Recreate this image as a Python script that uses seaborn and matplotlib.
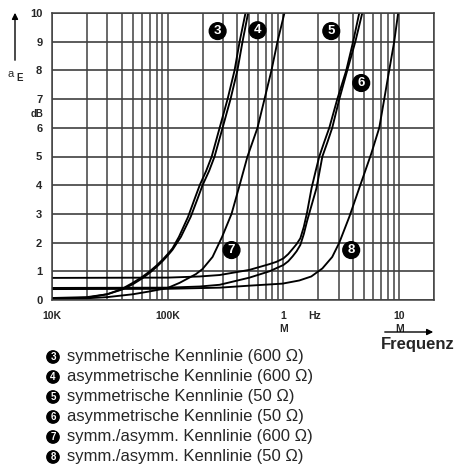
import numpy as np
import pandas as pd
import matplotlib.pyplot as plt
import seaborn as sns
from matplotlib.ticker import LogLocator, NullFormatter

# a_E in dB over frequency (kHz)
f3 = [10, 20, 30, 40, 50, 60, 70, 80, 90, 100, 110, 125, 150, 170, 189, 215, 240, 281, 329, 378, 418, 470]
a3 = [0.05, 0.08, 0.2, 0.38, 0.6, 0.8, 1.0, 1.2, 1.4, 1.6, 1.8, 2.2, 2.9, 3.5, 4.0, 4.5, 5.0, 6.0, 7.0, 8.0, 9.0, 10.0]

f4 = [10, 20, 30, 40, 50, 60, 70, 80, 90, 100, 110, 130, 158, 180, 200, 228, 254, 298, 349, 400, 443, 495]
a4 = [0.07, 0.1, 0.2, 0.36, 0.55, 0.75, 0.95, 1.15, 1.35, 1.55, 1.75, 2.2, 2.9, 3.5, 4.0, 4.5, 5.0, 6.0, 7.0, 8.0, 9.0, 10.0]

f5 = [10, 100, 189, 281, 509, 757, 870, 1000, 1100, 1200, 1300, 1400, 1500, 1600, 1750, 1900, 2040, 2250, 2490, 2920, 3490, 4000, 4520]
a5 = [0.77, 0.78, 0.82, 0.87, 1.05, 1.25, 1.33, 1.45, 1.6, 1.78, 1.95, 2.15, 2.55, 3.05, 3.9, 4.5, 5.0, 5.5, 6.0, 7.0, 8.0, 9.0, 10.0]

f6 = [10, 100, 189, 281, 509, 757, 1000, 1100, 1200, 1300, 1400, 1500, 1600, 1750, 1930, 2170, 2400, 2640, 3040, 3560, 4180, 4800]
a6 = [0.42, 0.43, 0.47, 0.53, 0.78, 1.0, 1.22, 1.35, 1.52, 1.7, 1.92, 2.3, 2.75, 3.3, 3.9, 5.0, 5.5, 6.0, 7.0, 8.0, 9.0, 10.0]

f7 = [10, 20, 30, 50, 70, 100, 127, 149, 175, 200, 244, 295, 356, 418, 489, 597, 686, 788, 888, 1020]
a7 = [0.04, 0.06, 0.1, 0.2, 0.3, 0.42, 0.6, 0.75, 0.9, 1.08, 1.5, 2.2, 3.0, 4.0, 5.0, 6.0, 7.0, 8.0, 9.0, 10.0]

f8 = [10, 100, 281, 509, 980, 1370, 1740, 2170, 2640, 3040, 3710, 4520, 5740, 6730, 7430, 8200, 9060, 9800]
a8 = [0.38, 0.39, 0.43, 0.5, 0.57, 0.68, 0.82, 1.1, 1.5, 2.0, 2.9, 3.9, 5.1, 6.0, 7.0, 8.0, 9.0, 10.0]

legend_texts = [
    ("3", "symmetrische Kennlinie (600 \u03a9)"),
    ("4", "asymmetrische Kennlinie (600 \u03a9)"),
    ("5", "symmetrische Kennlinie (50 \u03a9)"),
    ("6", "asymmetrische Kennlinie (50 \u03a9)"),
    ("7", "symm./asymm. Kennlinie (600 \u03a9)"),
    ("8", "symm./asymm. Kennlinie (50 \u03a9)"),
]

xtick_pos = [1e4, 1e5, 1e6, 1e7]
xtick_lab = ["10K", "100K", "1\nM", "10\nM"]

rows = []
for name, f, a in [("3", f3, a3), ("4", f4, a4), ("5", f5, a5),
                   ("6", f6, a6), ("7", f7, a7), ("8", f8, a8)]:
    for fi, ai in zip(f, a):
        rows.append({"curve": name, "freq": fi * 1000, "dB": ai})
df = pd.DataFrame(rows)

sns.set_style("white")
plt.rcParams["font.family"] = ["Liberation Sans", "DejaVu Sans"]

W, H = 456, 470
def px(x, y):
    return x / W, 1 - y / H

fig = plt.figure(figsize=(W / 100, H / 100), dpi=100)
ax = fig.add_axes([52 / W, 1 - 300 / H, (434 - 52) / W, (300 - 13) / H])

gc = "#404040"
ax.set_xscale("log")
ax.set_xlim(1e4, 2e7)
ax.set_ylim(0, 10)
ax.xaxis.set_minor_locator(LogLocator(base=10, subs=range(2, 10)))
ax.xaxis.set_minor_formatter(NullFormatter())
ax.grid(True, which="both", axis="x", color=gc, lw=1.1)
ax.grid(True, which="major", axis="y", color=gc, lw=1.2)
ax.set_axisbelow(True)

sns.lineplot(data=df, x="freq", y="dB", units="curve", estimator=None,
             color="black", lw=1.35, ax=ax, legend=False, sort=False)

ax.set_xticks(xtick_pos)
ax.set_xticklabels(xtick_lab, fontweight="bold", fontsize=7.5, linespacing=1.3)
ax.set_yticks(range(0, 11))
ax.set_yticklabels([str(i) for i in range(0, 11)], fontweight="bold", fontsize=8)
ax.tick_params(axis="x", which="major", length=4, width=1, color=gc, pad=4)
ax.tick_params(axis="x", which="minor", length=0)
ax.tick_params(axis="y", length=3, width=1, color=gc, pad=4)
ax.set_xlabel("")
ax.set_ylabel("")
for s in ax.spines.values():
    s.set_color(gc)
    s.set_linewidth(1.1)

# curve tags
tags = {"3": (2.7e5, 9.37), "4": (5.97e5, 9.4), "5": (2.59e6, 9.37),
        "6": (4.7e6, 7.56), "7": (3.56e5, 1.74), "8": (3.85e6, 1.74)}
for k, (x, y) in tags.items():
    ax.text(x, y, k, ha="center", va="center", color="white", fontweight="bold",
            fontsize=9.5, bbox=dict(boxstyle="circle,pad=0.18", fc="black", ec="black"))

# axis annotations
fig.text(*px(315, 316), "Hz", ha="center", va="center", fontweight="bold", fontsize=7.5)
fig.text(*px(418, 345), "Frequenz", ha="center", va="center", fontweight="bold", fontsize=12)
ax.annotate("", xy=px(436, 332), xytext=px(382, 332), xycoords="figure fraction",
            arrowprops=dict(arrowstyle="-|>", color="black", lw=1, mutation_scale=9))
ax.annotate("", xy=px(15, 10), xytext=px(15, 63), xycoords="figure fraction",
            arrowprops=dict(arrowstyle="-|>", color="black", lw=1, mutation_scale=9))
fig.text(*px(11, 74), "a", ha="center", va="center", fontsize=8)
fig.text(*px(20, 78), "E", ha="center", va="center", fontsize=7, fontweight="bold")
fig.text(*px(37, 114), "dB", ha="center", va="center", fontsize=7, fontweight="bold")

# legend block
for i, (k, t) in enumerate(legend_texts):
    y = 357 + i * 20
    fig.text(*px(53, y), k, ha="center", va="center", color="white", fontweight="bold",
             fontsize=7, bbox=dict(boxstyle="circle,pad=0.12", fc="black", ec="black"))
    fig.text(*px(67, y), t, ha="left", va="center", fontsize=12)

fig.savefig("out.png", dpi=100)
